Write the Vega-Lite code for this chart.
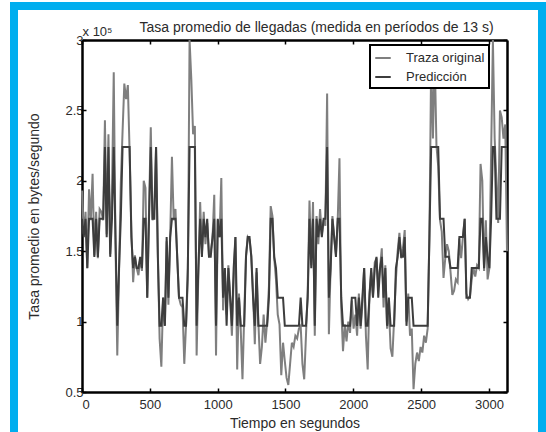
{
  "$schema": "https://vega.github.io/schema/vega-lite/v6.json",
  "width": 528,
  "height": 426,
  "autosize": {"type": "none"},
  "padding": {"left": 14, "top": 6, "right": 4, "bottom": 0},
  "background": "white",
  "config": {
    "view": {"fill": "white", "stroke": "#00AEEF", "strokeWidth": 8, "strokeDash": [954, 528, 426]},
    "font": "Liberation Sans",
    "axis": {
      "domainColor": "black", "domainWidth": 2.5,
      "tickColor": "black", "tickWidth": 1.5, "tickSize": -4,
      "grid": false,
      "labelFont": "Liberation Sans", "labelFontSize": 13, "labelColor": "#2b2b2b",
      "titleFont": "Liberation Sans", "titleFontSize": 14, "titleFontWeight": "normal", "titleColor": "#2b2b2b",
      "zindex": 1
    },
    "legend": {
      "strokeColor": "black", "strokeWidth": 2, "fillColor": "white", "padding": 4,
      "symbolType": "stroke", "symbolSize": 240, "symbolStrokeWidth": 2,
      "labelFont": "Liberation Sans", "labelFontSize": 13, "labelColor": "#2b2b2b",
      "rowPadding": 3, "labelOffset": 14
    }
  },
  "data": {"values": [
    {"t":0,"original":1.93,"prediccion":1.73},{"t":13,"original":1.62,"prediccion":1.6},{"t":26,"original":1.78,"prediccion":1.73},{"t":39,"original":1.38,"prediccion":1.38},{"t":52,"original":1.94,"prediccion":1.73},
    {"t":65,"original":1.72,"prediccion":1.73},{"t":78,"original":2.05,"prediccion":1.73},{"t":91,"original":1.47,"prediccion":1.46},{"t":104,"original":1.78,"prediccion":1.73},{"t":117,"original":1.45,"prediccion":1.46},
    {"t":130,"original":1.8,"prediccion":1.73},{"t":143,"original":1.78,"prediccion":1.73},{"t":156,"original":1.72,"prediccion":1.73},{"t":169,"original":2.43,"prediccion":2.24},{"t":182,"original":1.62,"prediccion":1.6},
    {"t":195,"original":2.33,"prediccion":2.24},{"t":208,"original":1.48,"prediccion":1.46},{"t":221,"original":1.92,"prediccion":1.73},{"t":234,"original":2.77,"prediccion":2.24},{"t":247,"original":1.55,"prediccion":1.6},
    {"t":260,"original":0.76,"prediccion":0.97},{"t":273,"original":1.35,"prediccion":1.38},{"t":286,"original":1.98,"prediccion":1.73},{"t":299,"original":2.35,"prediccion":2.24},{"t":312,"original":2.69,"prediccion":2.24},
    {"t":325,"original":2.58,"prediccion":2.24},{"t":338,"original":2.68,"prediccion":2.24},{"t":351,"original":2.2,"prediccion":2.24},{"t":364,"original":1.65,"prediccion":1.6},{"t":377,"original":1.28,"prediccion":1.38},
    {"t":390,"original":1.47,"prediccion":1.46},{"t":403,"original":1.38,"prediccion":1.38},{"t":416,"original":1.33,"prediccion":1.38},{"t":429,"original":1.45,"prediccion":1.46},{"t":442,"original":1.36,"prediccion":1.38},
    {"t":455,"original":2.0,"prediccion":1.73},{"t":468,"original":1.95,"prediccion":1.73},{"t":481,"original":1.17,"prediccion":1.17},{"t":494,"original":1.78,"prediccion":1.73},{"t":507,"original":2.38,"prediccion":2.24},
    {"t":520,"original":1.72,"prediccion":1.73},{"t":533,"original":1.8,"prediccion":1.73},{"t":546,"original":2.24,"prediccion":2.24},{"t":559,"original":1.5,"prediccion":1.46},{"t":572,"original":0.88,"prediccion":0.97},
    {"t":585,"original":0.68,"prediccion":0.97},{"t":598,"original":1.17,"prediccion":1.17},{"t":611,"original":0.97,"prediccion":0.97},{"t":624,"original":1.57,"prediccion":1.6},{"t":637,"original":1.12,"prediccion":1.17},
    {"t":650,"original":1.6,"prediccion":1.6},{"t":663,"original":2.17,"prediccion":1.73},{"t":676,"original":1.72,"prediccion":1.73},{"t":689,"original":1.8,"prediccion":1.73},{"t":702,"original":1.45,"prediccion":1.46},
    {"t":715,"original":1.17,"prediccion":1.17},{"t":728,"original":1.12,"prediccion":1.17},{"t":741,"original":1.1,"prediccion":1.17},{"t":754,"original":0.7,"prediccion":0.97},{"t":767,"original":0.98,"prediccion":0.97},
    {"t":780,"original":1.3,"prediccion":1.38},{"t":793,"original":3.0,"prediccion":2.24},{"t":806,"original":2.72,"prediccion":2.24},{"t":819,"original":2.33,"prediccion":2.24},{"t":832,"original":2.39,"prediccion":2.24},
    {"t":845,"original":0.76,"prediccion":0.97},{"t":858,"original":1.35,"prediccion":1.38},{"t":871,"original":1.85,"prediccion":1.73},{"t":884,"original":1.48,"prediccion":1.46},{"t":897,"original":1.78,"prediccion":1.73},
    {"t":910,"original":1.55,"prediccion":1.6},{"t":923,"original":1.7,"prediccion":1.73},{"t":936,"original":1.47,"prediccion":1.46},{"t":949,"original":1.5,"prediccion":1.46},{"t":962,"original":1.59,"prediccion":1.6},
    {"t":975,"original":1.9,"prediccion":1.73},{"t":988,"original":0.76,"prediccion":0.97},{"t":1001,"original":1.72,"prediccion":1.73},{"t":1014,"original":1.6,"prediccion":1.6},{"t":1027,"original":2.02,"prediccion":1.73},
    {"t":1040,"original":1.08,"prediccion":1.17},{"t":1053,"original":1.38,"prediccion":1.38},{"t":1066,"original":1.05,"prediccion":0.97},{"t":1079,"original":1.4,"prediccion":1.38},{"t":1092,"original":1.18,"prediccion":1.17},
    {"t":1105,"original":0.9,"prediccion":0.97},{"t":1118,"original":1.3,"prediccion":1.38},{"t":1131,"original":1.6,"prediccion":1.6},{"t":1144,"original":0.66,"prediccion":0.97},{"t":1157,"original":1.2,"prediccion":1.17},
    {"t":1170,"original":0.95,"prediccion":0.97},{"t":1183,"original":0.59,"prediccion":0.97},{"t":1196,"original":1.05,"prediccion":0.97},{"t":1209,"original":1.47,"prediccion":1.46},{"t":1222,"original":1.6,"prediccion":1.6},
    {"t":1235,"original":1.58,"prediccion":1.6},{"t":1248,"original":1.47,"prediccion":1.46},{"t":1261,"original":1.2,"prediccion":1.17},{"t":1274,"original":0.84,"prediccion":0.97},{"t":1287,"original":1.35,"prediccion":1.38},
    {"t":1300,"original":1.0,"prediccion":0.97},{"t":1313,"original":0.7,"prediccion":0.97},{"t":1326,"original":0.82,"prediccion":0.97},{"t":1339,"original":1.05,"prediccion":0.97},{"t":1352,"original":0.85,"prediccion":0.97},
    {"t":1365,"original":1.0,"prediccion":0.97},{"t":1378,"original":1.25,"prediccion":1.17},{"t":1391,"original":1.82,"prediccion":1.73},{"t":1404,"original":1.75,"prediccion":1.73},{"t":1417,"original":1.45,"prediccion":1.46},
    {"t":1430,"original":1.3,"prediccion":1.38},{"t":1443,"original":1.05,"prediccion":1.17},{"t":1456,"original":0.98,"prediccion":1.17},{"t":1469,"original":0.62,"prediccion":1.17},{"t":1482,"original":0.85,"prediccion":1.17},
    {"t":1495,"original":0.72,"prediccion":0.97},{"t":1508,"original":0.6,"prediccion":0.97},{"t":1521,"original":0.55,"prediccion":0.97},{"t":1534,"original":0.7,"prediccion":0.97},{"t":1547,"original":0.85,"prediccion":0.97},
    {"t":1560,"original":0.82,"prediccion":0.97},{"t":1573,"original":0.9,"prediccion":0.97},{"t":1586,"original":0.88,"prediccion":0.97},{"t":1599,"original":0.95,"prediccion":0.97},{"t":1612,"original":0.97,"prediccion":1.17},
    {"t":1625,"original":0.7,"prediccion":0.97},{"t":1638,"original":0.59,"prediccion":0.97},{"t":1651,"original":0.9,"prediccion":0.97},{"t":1664,"original":1.22,"prediccion":1.17},{"t":1677,"original":1.86,"prediccion":1.73},
    {"t":1690,"original":1.4,"prediccion":1.38},{"t":1703,"original":1.85,"prediccion":1.73},{"t":1716,"original":0.9,"prediccion":0.97},{"t":1729,"original":1.75,"prediccion":1.73},{"t":1742,"original":1.55,"prediccion":1.6},
    {"t":1755,"original":1.8,"prediccion":1.73},{"t":1768,"original":1.62,"prediccion":1.6},{"t":1781,"original":1.72,"prediccion":1.73},{"t":1794,"original":1.68,"prediccion":1.73},{"t":1807,"original":2.62,"prediccion":2.24},
    {"t":1820,"original":0.91,"prediccion":1.17},{"t":1833,"original":1.4,"prediccion":1.38},{"t":1846,"original":1.75,"prediccion":1.73},{"t":1859,"original":1.6,"prediccion":1.6},{"t":1872,"original":1.48,"prediccion":1.46},
    {"t":1885,"original":1.72,"prediccion":1.73},{"t":1898,"original":2.16,"prediccion":1.73},{"t":1911,"original":1.1,"prediccion":1.17},{"t":1924,"original":0.79,"prediccion":0.97},{"t":1937,"original":0.98,"prediccion":0.97},
    {"t":1950,"original":0.86,"prediccion":0.97},{"t":1963,"original":1.0,"prediccion":0.97},{"t":1976,"original":0.92,"prediccion":0.97},{"t":1989,"original":1.15,"prediccion":1.17},{"t":2002,"original":0.95,"prediccion":1.17},
    {"t":2015,"original":1.05,"prediccion":1.17},{"t":2028,"original":0.9,"prediccion":0.97},{"t":2041,"original":1.2,"prediccion":1.17},{"t":2054,"original":0.95,"prediccion":0.97},{"t":2067,"original":1.12,"prediccion":1.17},
    {"t":2080,"original":1.38,"prediccion":1.38},{"t":2093,"original":0.9,"prediccion":0.97},{"t":2106,"original":0.66,"prediccion":0.97},{"t":2119,"original":1.2,"prediccion":1.17},{"t":2132,"original":1.35,"prediccion":1.38},
    {"t":2145,"original":1.18,"prediccion":1.17},{"t":2158,"original":1.42,"prediccion":1.38},{"t":2171,"original":1.45,"prediccion":1.46},{"t":2184,"original":1.25,"prediccion":1.17},{"t":2197,"original":1.38,"prediccion":1.38},
    {"t":2210,"original":1.52,"prediccion":1.46},{"t":2223,"original":1.1,"prediccion":1.17},{"t":2236,"original":1.4,"prediccion":1.38},{"t":2249,"original":0.95,"prediccion":0.97},{"t":2262,"original":1.1,"prediccion":1.17},
    {"t":2275,"original":0.81,"prediccion":0.97},{"t":2288,"original":0.75,"prediccion":0.97},{"t":2301,"original":1.02,"prediccion":0.97},{"t":2314,"original":1.3,"prediccion":1.38},{"t":2327,"original":1.5,"prediccion":1.46},
    {"t":2340,"original":1.63,"prediccion":1.6},{"t":2353,"original":1.45,"prediccion":1.46},{"t":2366,"original":1.52,"prediccion":1.46},{"t":2379,"original":1.65,"prediccion":1.6},{"t":2392,"original":1.0,"prediccion":0.97},
    {"t":2405,"original":1.2,"prediccion":1.17},{"t":2418,"original":0.9,"prediccion":1.17},{"t":2431,"original":0.95,"prediccion":1.17},{"t":2444,"original":0.52,"prediccion":0.97},{"t":2457,"original":0.7,"prediccion":0.97},
    {"t":2470,"original":0.78,"prediccion":0.97},{"t":2483,"original":0.72,"prediccion":0.97},{"t":2496,"original":0.82,"prediccion":0.97},{"t":2509,"original":0.78,"prediccion":0.97},{"t":2522,"original":0.9,"prediccion":0.97},
    {"t":2535,"original":0.85,"prediccion":0.97},{"t":2548,"original":0.95,"prediccion":0.97},{"t":2561,"original":1.6,"prediccion":1.6},{"t":2574,"original":2.85,"prediccion":2.24},{"t":2587,"original":2.3,"prediccion":2.24},
    {"t":2600,"original":2.9,"prediccion":2.24},{"t":2613,"original":2.25,"prediccion":2.24},{"t":2626,"original":2.1,"prediccion":2.24},{"t":2639,"original":1.72,"prediccion":1.73},{"t":2652,"original":1.64,"prediccion":1.73},
    {"t":2665,"original":1.31,"prediccion":1.73},{"t":2678,"original":1.45,"prediccion":1.46},{"t":2691,"original":1.55,"prediccion":1.46},{"t":2704,"original":1.5,"prediccion":1.46},{"t":2717,"original":1.35,"prediccion":1.38},
    {"t":2730,"original":1.19,"prediccion":1.38},{"t":2743,"original":1.22,"prediccion":1.38},{"t":2756,"original":1.3,"prediccion":1.38},{"t":2769,"original":1.28,"prediccion":1.38},{"t":2782,"original":1.59,"prediccion":1.6},
    {"t":2795,"original":1.45,"prediccion":1.6},{"t":2808,"original":1.6,"prediccion":1.6},{"t":2821,"original":1.73,"prediccion":1.73},{"t":2834,"original":1.2,"prediccion":1.17},{"t":2847,"original":1.16,"prediccion":1.17},
    {"t":2860,"original":1.18,"prediccion":1.17},{"t":2873,"original":1.3,"prediccion":1.38},{"t":2886,"original":1.38,"prediccion":1.38},{"t":2899,"original":1.32,"prediccion":1.38},{"t":2912,"original":1.4,"prediccion":1.38},
    {"t":2925,"original":1.38,"prediccion":1.38},{"t":2938,"original":2.12,"prediccion":1.73},{"t":2951,"original":2.0,"prediccion":1.73},{"t":2964,"original":1.36,"prediccion":1.38},{"t":2977,"original":1.72,"prediccion":1.6},
    {"t":2990,"original":1.3,"prediccion":1.46},{"t":3003,"original":1.38,"prediccion":1.38},{"t":3016,"original":2.2,"prediccion":1.73},{"t":3029,"original":3.0,"prediccion":2.24},{"t":3042,"original":2.3,"prediccion":2.24},
    {"t":3055,"original":2.0,"prediccion":1.73},{"t":3068,"original":1.7,"prediccion":1.73},{"t":3081,"original":2.5,"prediccion":1.73},{"t":3094,"original":2.45,"prediccion":2.24},{"t":3107,"original":2.3,"prediccion":2.24},
    {"t":3120,"original":2.4,"prediccion":2.24},{"t":3133,"original":1.5,"prediccion":2.24}
  ]},
  "layer": [
    {
      "mark": {"type": "line", "strokeWidth": 2},
      "encoding": {
        "x": {
          "field": "t", "type": "quantitative",
          "scale": {"domain": [0, 3133], "range": [68, 493], "nice": false, "zero": false},
          "axis": {
            "orient": "bottom", "offset": -40,
            "values": [0, 500, 1000, 1500, 2000, 2500, 3000], "format": "d",
            "labelPadding": 10, "labelBaseline": "top",
            "title": "Tiempo en segundos", "titlePadding": 5
          }
        },
        "y": {
          "field": "original", "type": "quantitative",
          "scale": {"domain": [0.5, 3], "range": [386, 34], "nice": false, "zero": false},
          "axis": {
            "orient": "left", "offset": -68,
            "values": [0.5, 1, 1.5, 2, 2.5, 3], "format": "~g",
            "labelPadding": 3,
            "title": "Tasa promedio en bytes/segundo", "titlePadding": 23
          }
        },
        "color": {
          "datum": "Traza original", "type": "nominal",
          "scale": {"domain": ["Traza original", "Predicción"], "range": ["#7f7f7f", "#3d3d3d"]},
          "legend": {"orient": "none", "legendX": 356, "legendY": 39, "title": null, "zindex": 2}
        }
      }
    },
    {
      "mark": {"type": "line", "strokeWidth": 2},
      "encoding": {
        "x": {
          "field": "t", "type": "quantitative",
          "scale": {"domain": [0, 3133], "range": [68, 493], "nice": false, "zero": false},
          "axis": {
            "orient": "top", "offset": -34,
            "values": [0, 500, 1000, 1500, 2000, 2500, 3000],
            "labels": false,
            "title": "Tasa promedio de llegadas (medida en períodos de 13 s)",
            "titleX": 302, "titleY": -13, "titleAlign": "center", "titleBaseline": "middle"
          }
        },
        "y": {
          "field": "prediccion", "type": "quantitative",
          "scale": {"domain": [0.5, 3], "range": [386, 34], "nice": false, "zero": false},
          "axis": {
            "orient": "right", "offset": -35,
            "values": [0.5, 1, 1.5, 2, 2.5, 3],
            "labels": false,
            "title": "x 10⁵", "titleFontSize": 13,
            "titleX": -410, "titleY": 25, "titleAngle": 0, "titleAlign": "center", "titleBaseline": "middle"
          }
        },
        "color": {"datum": "Predicción", "type": "nominal"}
      }
    }
  ],
  "resolve": {"axis": {"x": "independent", "y": "independent"}}
}
